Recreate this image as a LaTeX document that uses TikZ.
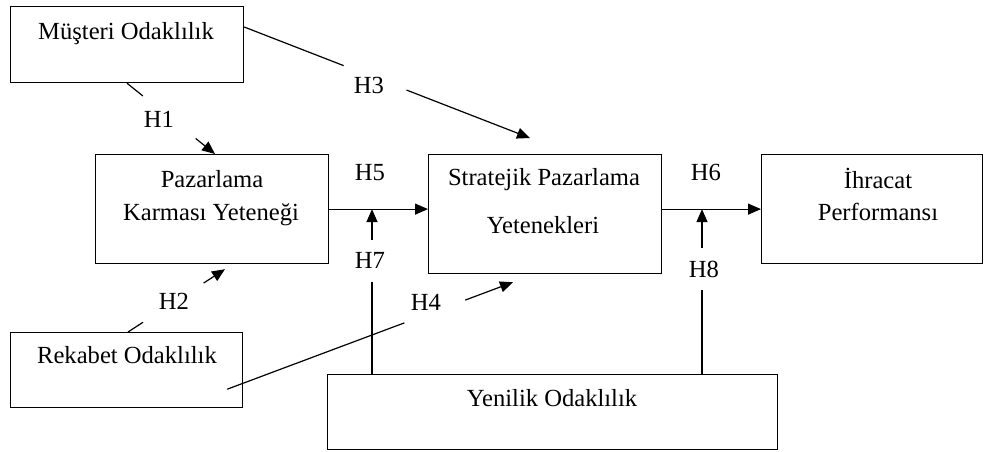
\documentclass[tikz,border=0pt]{standalone}
\usepackage{fontspec}
\setmainfont{Liberation Serif}
\usetikzlibrary{arrows.meta,calc}
\begin{document}
\begin{tikzpicture}[x=1pt,y=-1pt,
  box/.style={draw, line width=1.2pt, rectangle, inner sep=0pt, anchor=north west},
  txt/.style={anchor=base, inner sep=0pt, font=\fontsize{24.6}{28}\selectfont},
  link/.style={line width=1.2pt},
  arr/.style={link, -{Triangle[length=13pt,width=11pt]}}]
\useasboundingbox (0,0) rectangle (990,451);

% constructs
\node[box, minimum width=233pt, minimum height=76pt]  (mo) at (10,6) {};
\node[box, minimum width=233pt, minimum height=109pt] (pk) at (95,154) {};
\node[box, minimum width=233pt, minimum height=119pt] (sp) at (428,154) {};
\node[box, minimum width=221pt, minimum height=109pt] (ip) at (761,154) {};
\node[box, minimum width=232pt, minimum height=75pt]  (ro) at (10,332) {};
\node[box, minimum width=450pt, minimum height=75pt]  (yo) at (327,374) {};

% construct names
\node[txt] (tmo)  at (126,39)  {Müşteri Odaklılık};
\node[txt] (tpk1) at (212,187) {Pazarlama};
\node[txt] (tpk2) at (211,220) {Karması Yeteneği};
\node[txt] (tsp1) at (544,185) {Stratejik Pazarlama};
\node[txt] (tsp2) at (543,233) {Yetenekleri};
\node[txt] (tip1) at (878,188) {İhracat};
\node[txt] (tip2) at (878,220) {Performansı};
\node[txt] (tro)  at (127,363) {Rekabet Odaklılık};
\node[txt] (tyo)  at (552,406) {Yenilik Odaklılık};

% hypothesis labels
\node[txt] (l1) at (159,127) {H1};
\node[txt] (l2) at (174,309) {H2};
\node[txt] (l3) at (369,93)  {H3};
\node[txt] (l4) at (426,310) {H4};
\node[txt] (l5) at (370,180) {H5};
\node[txt] (l6) at (706,180) {H6};
\node[txt] (l7) at (370,268) {H7};
\node[txt] (l8) at (704,277) {H8};

% H1
\coordinate (h1s) at ($(mo.south west)+(117,0)$);
\coordinate (h1t) at ($(pk.north west)+(120,0)$);
\draw[link] (h1s) -- ($(h1s)!0.18!(h1t)$);
\draw[arr]  ($(h1s)!0.78!(h1t)$) -- (h1t);

% H2
\coordinate (h2s) at ($(ro.north west)+(118,0)$);
\coordinate (h2t) at ($(pk.south west)+(130,5)$);
\draw[link] (h2s) -- ($(h2s)!0.155!(h2t)$);
\draw[arr]  ($(h2s)!0.78!(h2t)$) -- (h2t);

% H3
\coordinate (h3s) at ($(mo.north east)+(0,21)$);
\coordinate (h3t) at ($(sp.north west)+(102,-16)$);
\draw[link] (h3s) -- ($(h3s)!0.348!(h3t)$);
\draw[arr]  ($(h3s)!0.568!(h3t)$) -- (h3t);

% H4
\coordinate (h4s) at ($(ro.south east)+(-16,-19)$);
\coordinate (h4t) at ($(sp.south west)+(85,8)$);
\draw[link] (h4s) -- ($(h4s)!0.62!(h4t)$);
\draw[arr]  ($(h4s)!0.833!(h4t)$) -- (h4t);

% H5, H6
\draw[arr] (pk.east) -- (pk.east -| sp.west);
\draw[arr] (ip.west -| sp.east) -- (ip.west);

% H7
\coordinate (h7b) at ($(yo.north west)+(45,0)$);
\coordinate (h7t) at (h7b |- pk.east);
\draw[link] (h7b) -- ($(h7b)+(0,-92)$);
\draw[arr]  ($(h7b)+(0,-134)$) -- (h7t);

% H8
\coordinate (h8b) at ($(yo.north west)+(375,0)$);
\coordinate (h8t) at (h8b |- ip.west);
\draw[link] (h8b) -- ($(h8b)+(0,-84)$);
\draw[arr]  ($(h8b)+(0,-126)$) -- (h8t);
\end{tikzpicture}
\end{document}
